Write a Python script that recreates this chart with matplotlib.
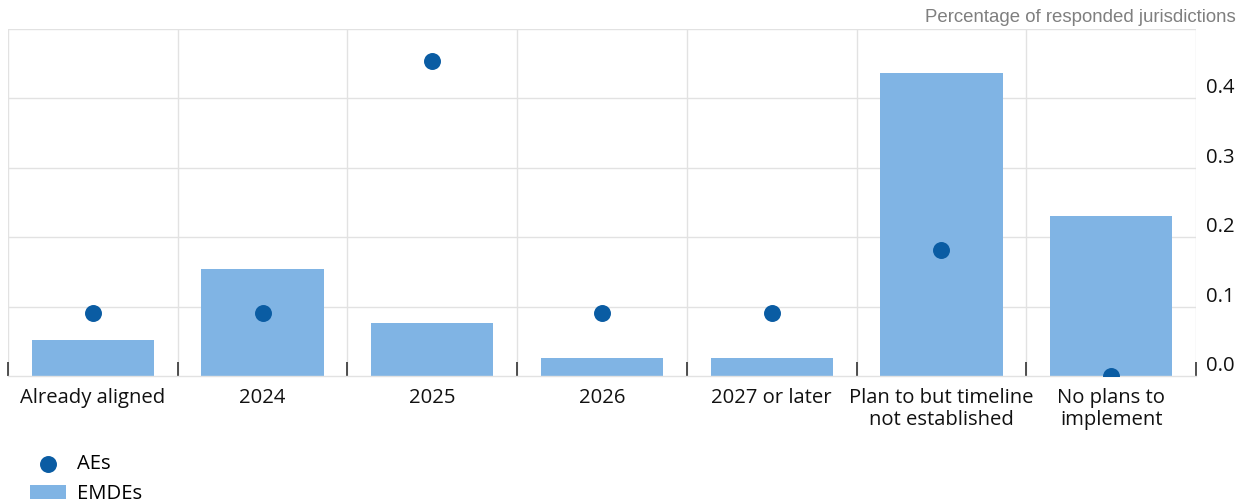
import matplotlib
matplotlib.use("Agg")
import matplotlib.pyplot as plt
import numpy as np

categories = ["Already aligned", "2024", "2025", "2026", "2027 or later",
              "Plan to but timeline\nnot established", "No plans to\nimplement"]
emdes = [2/39, 6/39, 3/39, 1/39, 1/39, 17/39, 9/39]
aes = [1/11, 1/11, 5/11, 1/11, 1/11, 2/11, 0.0]
y_ticks = [0.0, 0.1, 0.2, 0.3, 0.4]
y_tick_labels = ["0.0", "0.1", "0.2", "0.3", "0.4"]

W, H, DPI = 1247, 504, 100
fig = plt.figure(figsize=(W / DPI, H / DPI), dpi=DPI)
ax = fig.add_axes([8 / W, (H - 376) / H, (1196 - 8) / W, (376 - 29) / H])

BAR = "#80b4e4"
DOT = "#0a5ca3"
GRID = "#e2e2e2"
FONT = "Open Sans"
FS = 14.6

x = np.arange(len(categories))
ax.bar(x, emdes, width=0.72, color=BAR, zorder=2, label="EMDEs")
ax.scatter(x, aes, s=125, color=DOT, zorder=3, label="AEs", clip_on=True)

ax.set_xlim(-0.5, len(categories) - 0.5)
ax.set_ylim(0, 0.5)

# horizontal grid incl. top edge
for yv in y_ticks[1:] + [0.5]:
    ax.axhline(yv, color=GRID, lw=1.0, zorder=1)
# vertical separators between categories
for xv in np.arange(-0.5, len(categories), 1.0):
    ax.axvline(xv, color=GRID, lw=1.0, zorder=1)

for s in ["top", "left", "right"]:
    ax.spines[s].set_visible(False)
ax.spines["bottom"].set_color(GRID)
ax.spines["bottom"].set_linewidth(1.0)

ax.set_xticks(x)
ax.set_xticklabels(categories, fontsize=FS, family=FONT, color="#111111",
                   linespacing=1.15)
ax.set_xticks(np.arange(-0.5, len(categories), 1.0), minor=True)
ax.tick_params(axis="x", which="major", length=0, pad=8.5)
ax.tick_params(axis="x", which="minor", direction="in", length=10,
               width=1.2, color="#333333")

ax.yaxis.tick_right()
ax.set_yticks(y_ticks)
ax.set_yticklabels(y_tick_labels, fontsize=FS, family=FONT, color="#111111")
ax.tick_params(axis="y", length=0, pad=28)
for lab in ax.get_yticklabels():
    lab.set_horizontalalignment("right")
    lab.set_verticalalignment("bottom")

fig.text(1236 / W, 1 - 17 / H, "Percentage of responded jurisdictions",
         ha="right", va="center", fontsize=13.4, family="Liberation Sans",
         color="#7f7f7f")

handles, labels = ax.get_legend_handles_labels()
order = [labels.index("AEs"), labels.index("EMDEs")]
leg = fig.legend([handles[i] for i in order], [labels[i] for i in order],
                 loc="upper left", bbox_to_anchor=(30 / W, 1 - 454 / H),
                 frameon=False, prop={"family": FONT, "size": FS},
                 handlelength=1.76, handleheight=0.64, labelspacing=0.5,
                 borderaxespad=0, borderpad=0, handletextpad=0.55)

fig.savefig("out.png", dpi=DPI)
